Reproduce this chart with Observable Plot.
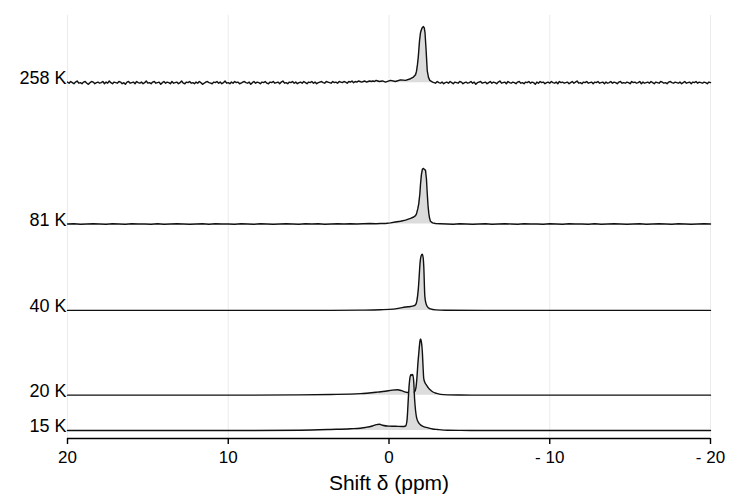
<!DOCTYPE html>
<html>
<head>
<meta charset="utf-8">
<script src="https://cdn.jsdelivr.net/npm/d3@7"></script>
<script src="https://cdn.jsdelivr.net/npm/@observablehq/plot@0.6"></script>
<style>
  html, body { margin: 0; padding: 0; background: #fff; }
  #chart svg { font-family: "Liberation Sans", Arial, sans-serif; }
</style>
</head>
<body>
<div id="chart"></div>
<script>
// ---- Data ----
const ppmTicks = [20, 10, 0, -10, -20];
const tickLabels = ["20", "10", "0", "- 10", "- 20"];
const temps = ["258 K", "81 K", "40 K", "20 K", "15 K"];
// vertical offsets (baselines) of each trace, in normalized-intensity units
const offsets = [12.10, 9.58, 8.04, 6.53, 5.90];

// 258 K: noisy baseline left (ppm 20 -> 0.6, step 0.1) and right (ppm -3.0 -> -20, step 0.1)
const noise258Left = [
  1,-1,2,0,-2,1,3,-1,0,-2, 1,2,-1,-3,0,2,1,-2,0,1, -1,0,2,-2,1,-1,3,0,-2,1,
  0,-1,2,1,-2,0,-3,1,2,-1, 0,1,-2,2,0,-1,1,-2,0,3, -1,0,-2,1,2,-1,0,1,-3,0,
  2,-1,1,0,-2,2,-1,0,1,-2, 0,3,-1,-2,1,0,2,-1,0,-2, 1,-1,2,0,-3,-1,1,2,0,-1,
  -2,1,0,2,-1,1,-2,0,3,-1, 0,-2,1,-1,2,0,1,-2,-1,1, 2,0,-1,1,-3,0,2,-1,1,0,
  -2,1,0,2,-1,-2,1,0,2,-1, 0,1,-2,1,3,-1,0,-2,1,0, 2,-1,1,-2,0,1,-1,2,0,-2,
  1,0,2,-1,1,-2,0,1,2,0, -1,2,1,0,-1,2,0,1,-1,2, 1,0,2,1,-1,2,1,3,0,2,
  1,3,2,1,2,3,1,2,3,2, 3,2,4,3,2];
const noise258Right = [
  2,0,-1,1,-2,0,1,-1,2,0, -2,1,0,-1,2,1,-2,0,1,-1, 0,2,-1,1,-3,0,1,2,-1,0,
  1,-2,0,2,-1,1,0,-2,1,3, -1,0,1,-2,2,0,-1,1,0,-2, 1,2,-1,0,-2,1,0,2,-1,1,
  0,-3,1,-1,2,0,1,-2,0,1, -1,2,0,-1,1,-2,2,0,1,-1, 0,1,-2,0,2,-1,1,3,-1,0,
  -2,1,0,2,-1,0,1,-2,1,0, 2,-1,0,1,-2,1,-1,0,2,-1, 1,0,-2,1,2,-1,0,-1,1,0,
  -2,2,0,1,-1,0,2,-2,1,-1, 0,1,-1,2,0,-2,1,0,-1,2, 1,-1,0,-2,1,2,0,-1,1,0,
  -1,1,-2,0,2,-1,0,1,-2,1, 0,2,-1,1,0,-1,1,0,-2,1, 0];
const peak258Ppm = [0.4,0.22,-0.09,-0.4,-0.72,-1.03,-1.34,-1.52,-1.65,-1.71,-1.77,-1.82,-1.90,-1.96,-2.00,-2.05,-2.13,-2.19,-2.24,-2.30,-2.38,-2.46,-2.54,-2.71,-2.89];
const peak258I   = [3,1,4,2,5,4,7,10,14,20,32,45,75,89,93,97,100,98,89,62,21,9,4,1,-1];

// 81 K: lightly noisy baseline left (20 -> 0.8, step 0.4) and right (-3.2 -> -20, step 0.4)
const noise81Left = [0,0.5,-0.5,0,0.5,0,-0.5,0.5,0,-0.5, 0.5,0,0,-0.5,0.5,-0.5,0,0.5,0,-0.5,
  0,0.5,-0.5,0.5,0,0,-0.5,0.5,0,-0.5, 0.5,0,-0.5,0,0.5,0,-0.5,0.5,0,0.5, -0.5,0,0.5,0,0.5,0,0.5,1,0.5];
const noise81Right = [0.5,0,-0.5,0.5,0,-0.5,0,0.5,-0.5,0, 0.5,0,-0.5,0.5,0,0,-0.5,0.5,0,-0.5,
  0.5,0,0,-0.5,0.5,-0.5,0,0.5,0,-0.5, 0,0.5,-0.5,0,0.5,0,-0.5,0.5,0,-0.5, 0,0.5,0];
const peak81Ppm = [0.53,0.22,-0.09,-0.40,-0.72,-1.03,-1.34,-1.54,-1.65,-1.71,-1.79,-1.85,-1.92,-1.96,-2.02,-2.08,-2.15,-2.21,-2.27,-2.33,-2.38,-2.43,-2.48,-2.52,-2.58,-2.71,-2.89];
const peak81I   = [1,1,2,3.5,5,7,10,12.5,15,18,27,36,54,71,89,98,99,97,96,80,54,32,18,11,5,2,1];

// 40 K
const s40Ppm = [20,8,3.64,1.77,0.53,-0.28,-0.72,-1.03,-1.34,-1.52,-1.65,-1.74,-1.82,-1.87,-1.92,-1.98,-2.07,-2.13,-2.16,-2.23,-2.30,-2.38,-2.46,-2.58,-2.89,-3.51,-6,-20];
const s40I   = [0,0,0,0.5,1.2,2.3,4.5,6,7,8,10,18,37,57,80,95,100,93,80,25,12.5,7,4.5,2.7,0.9,0.3,0,0];

// 20 K
const s20Ppm = [20,8.6,5.5,3.64,1.77,0.72,0.22,-0.22,-0.53,-0.78,-1.03,-1.28,-1.46,-1.59,-1.68,-1.74,-1.80,-1.87,-1.92,-1.96,-2.01,-2.07,-2.12,-2.16,-2.24,-2.33,-2.46,-2.58,-2.71,-2.96,-3.20,-3.64,-4.45,-6,-20];
const s20I   = [0,0,0.5,1.2,2.7,5.4,7,9,9.5,8,5.4,4.5,4.5,6,14,32,57,80,95,100,96,79,50,30,22,18,12.5,9,6,3,1.4,0.5,0.2,0,0];

// 15 K
const s15Ppm = [20,8.6,5.5,3.64,2.40,1.46,1.03,0.78,0.59,0.40,0.03,-0.40,-0.84,-1.03,-1.12,-1.18,-1.24,-1.31,-1.37,-1.43,-1.48,-1.54,-1.59,-1.65,-1.71,-1.84,-1.96,-2.15,-2.40,-2.71,-3.02,-3.64,-4.45,-6,-20];
const s15I   = [0,0,0.5,1.8,3,5.4,8,10.4,11,9.3,7.7,7.5,7,8,18,45,75,95,100,98,100,86,57,36,24,14,10,7,5,2.7,1.8,0.5,0.2,0,0];

// ---- Build tables ----
function gridRows(values, start, step) {
  return values.map((v, i) => ({ppm: +(start - i * step).toFixed(3), I: v}));
}
function pairRows(ppm, I) { return ppm.map((p, i) => ({ppm: p, I: I[i]})); }

const spectra = [
  [...gridRows(noise258Left, 20, 0.1), ...pairRows(peak258Ppm, peak258I), ...gridRows(noise258Right, -3.0, 0.1)],
  [...gridRows(noise81Left, 20, 0.4), ...pairRows(peak81Ppm, peak81I), ...gridRows(noise81Right, -3.2, 0.4)],
  pairRows(s40Ppm, s40I),
  pairRows(s20Ppm, s20I),
  pairRows(s15Ppm, s15I)
].map((rows, k) => rows.map(r => ({...r, T: temps[k], base: offsets[k], y: offsets[k] + r.I / 100})));
const curves = ["linear", "linear", "monotone-x", "monotone-x", "monotone-x"];

const yMin = 5.757, yMax = 13.297;

const marks = [
  Plot.gridX(ppmTicks, {stroke: "#ebebeb", strokeOpacity: 1, strokeWidth: 1})
];
spectra.forEach((rows, k) => {
  marks.push(Plot.areaY(rows, {x: "ppm", y1: "base", y2: "y", fill: "#dcdcdc", curve: curves[k]}));
  marks.push(Plot.lineY(rows, {x: "ppm", y: "y", stroke: "#111", strokeWidth: 1.4, curve: curves[k], strokeLinejoin: "round"}));
});
marks.push(Plot.ruleY([yMin], {stroke: "#000", strokeWidth: 1.4}));
marks.push(Plot.axisX(ppmTicks, {
  tickSize: 6, tickPadding: 6, strokeWidth: 1.4, fontSize: 17, label: null,
  tickFormat: d => tickLabels[ppmTicks.indexOf(d)]
}));
marks.push(Plot.text(temps.map((t, i) => ({t, y: offsets[i]})), {
  x: 20, y: "y", text: "t", textAnchor: "end", lineAnchor: "middle", dx: -1, dy: -4, fontSize: 18, fill: "#000"
}));
marks.push(Plot.text(["Shift δ (ppm)"], {
  frameAnchor: "bottom", text: d => d, dy: 45, fontSize: 21, fill: "#000", lineAnchor: "middle"
}));

const chart = Plot.plot({
  width: 747,
  height: 498,
  marginLeft: 67,
  marginRight: 37,
  marginTop: 15,
  marginBottom: 60,
  x: {domain: [20, -20], axis: null},
  y: {domain: [yMin, yMax], axis: null},
  marks
});
document.getElementById("chart").appendChild(chart);
</script>
</body>
</html>
